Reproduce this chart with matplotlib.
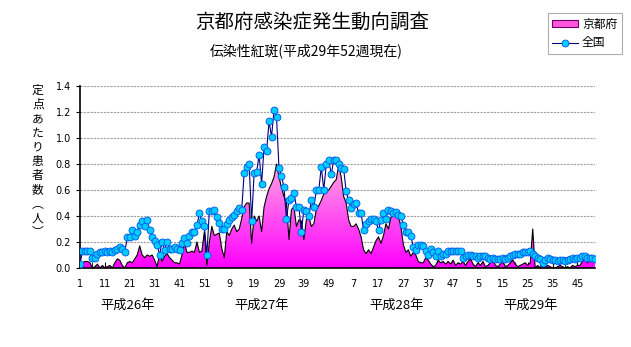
import numpy as np
import matplotlib
matplotlib.use("Agg")
import matplotlib.pyplot as plt
from matplotlib.colors import LinearSegmentedColormap
from matplotlib.patches import Patch
from matplotlib.lines import Line2D

plt.rcParams['font.family'] = ['Noto Sans CJK JP', 'DejaVu Sans']

# 京都府 (weekly, 平成26年1週 - 平成29年52週)
kyoto_h26 = [0.02, 0.04, 0.05, 0.05, 0.04, 0.00, 0.01, 0.03, 0.00, 0.02,
             0.00, 0.01, 0.02, 0.00, 0.04, 0.07, 0.06, 0.02, 0.00, 0.04,
             0.05, 0.04, 0.07, 0.10, 0.17, 0.10, 0.08, 0.10, 0.09, 0.10,
             0.06, 0.01, 0.11, 0.05, 0.09, 0.11, 0.08, 0.06, 0.04, 0.04,
             0.03, 0.10, 0.19, 0.12, 0.12, 0.13, 0.12, 0.20, 0.12, 0.13, 0.28, 0.02]
kyoto_h27 = [0.20, 0.32, 0.25, 0.26, 0.27, 0.15, 0.08, 0.28, 0.25, 0.30,
             0.33, 0.28, 0.30, 0.38, 0.47, 0.50, 0.50, 0.19, 0.40, 0.36,
             0.40, 0.28, 0.47, 0.55, 0.61, 0.65, 0.70, 0.80, 0.70, 0.62,
             0.55, 0.50, 0.22, 0.45, 0.47, 0.32, 0.37, 0.36, 0.22, 0.37,
             0.39, 0.32, 0.34, 0.45, 0.48, 0.52, 0.57, 0.59, 0.60, 0.63, 0.66, 0.68]
kyoto_h28 = [0.79, 0.70, 0.55, 0.50, 0.37, 0.32, 0.32, 0.34, 0.30, 0.24,
             0.14, 0.11, 0.14, 0.11, 0.16, 0.21, 0.24, 0.19, 0.25, 0.34,
             0.30, 0.39, 0.40, 0.41, 0.40, 0.32, 0.18, 0.12, 0.14, 0.09,
             0.12, 0.10, 0.05, 0.04, 0.04, 0.08, 0.06, 0.03, 0.01, 0.02,
             0.06, 0.04, 0.05, 0.03, 0.05, 0.03, 0.06, 0.02, 0.04, 0.03, 0.05, 0.02]
kyoto_h29 = [0.05, 0.07, 0.03, 0.01, 0.04, 0.02, 0.05, 0.01, 0.02, 0.04,
             0.06, 0.02, 0.01, 0.03, 0.05, 0.01, 0.02, 0.04, 0.06, 0.03,
             0.01, 0.02, 0.03, 0.04, 0.02, 0.04, 0.30, 0.00, 0.02, 0.00,
             0.01, 0.00, 0.02, 0.01, 0.00, 0.00, 0.01, 0.02, 0.01, 0.00,
             0.01, 0.00, 0.02, 0.01, 0.02, 0.02, 0.05, 0.07, 0.04, 0.06, 0.05, 0.06]

# 全国
zenkoku_h26 = [0.03, 0.13, 0.13, 0.13, 0.13, 0.08, 0.08, 0.11, 0.12, 0.12,
               0.13, 0.12, 0.13, 0.12, 0.14, 0.15, 0.16, 0.15, 0.12, 0.24,
               0.24, 0.29, 0.25, 0.28, 0.33, 0.36, 0.32, 0.37, 0.29, 0.24,
               0.21, 0.18, 0.10, 0.20, 0.14, 0.20, 0.15, 0.15, 0.16, 0.15,
               0.14, 0.19, 0.23, 0.19, 0.25, 0.28, 0.28, 0.33, 0.42, 0.36, 0.32, 0.10]
zenkoku_h27 = [0.44, 0.44, 0.45, 0.39, 0.35, 0.30, 0.30, 0.34, 0.37, 0.39,
               0.41, 0.44, 0.46, 0.45, 0.73, 0.78, 0.80, 0.36, 0.73, 0.74,
               0.87, 0.65, 0.93, 0.90, 1.13, 1.01, 1.22, 1.16, 0.77, 0.71,
               0.62, 0.38, 0.52, 0.54, 0.58, 0.47, 0.47, 0.28, 0.45, 0.44,
               0.40, 0.52, 0.47, 0.60, 0.60, 0.78, 0.60, 0.80, 0.83, 0.72, 0.83, 0.83]
zenkoku_h28 = [0.80, 0.77, 0.76, 0.59, 0.52, 0.46, 0.49, 0.50, 0.42, 0.42,
               0.29, 0.34, 0.36, 0.38, 0.38, 0.36, 0.29, 0.37, 0.42, 0.38,
               0.45, 0.44, 0.42, 0.43, 0.41, 0.40, 0.33, 0.28, 0.28, 0.25,
               0.16, 0.14, 0.18, 0.18, 0.17, 0.13, 0.10, 0.15, 0.12, 0.09,
               0.13, 0.09, 0.11, 0.11, 0.13, 0.13, 0.13, 0.13, 0.13, 0.13, 0.08, 0.09]
zenkoku_h29 = [0.10, 0.10, 0.09, 0.09, 0.08, 0.09, 0.09, 0.09, 0.08, 0.07,
               0.08, 0.07, 0.07, 0.07, 0.08, 0.07, 0.08, 0.09, 0.10, 0.11,
               0.11, 0.11, 0.12, 0.12, 0.12, 0.13, 0.11, 0.09, 0.08, 0.07,
               0.04, 0.06, 0.08, 0.07, 0.06, 0.06, 0.05, 0.06, 0.06, 0.05,
               0.06, 0.07, 0.08, 0.07, 0.08, 0.08, 0.09, 0.09, 0.08, 0.08, 0.08, 0.07]

week_labels = ['1', '11', '21', '31', '41', '51', '9', '19', '29', '39', '49',
               '7', '17', '27', '37', '47', '5', '15', '25', '35', '45']
year_labels = ['平成26年', '平成27年', '平成28年', '平成29年']

kyoto = np.array(kyoto_h26 + kyoto_h27 + kyoto_h28 + kyoto_h29)
zenkoku = np.array(zenkoku_h26 + zenkoku_h27 + zenkoku_h28 + zenkoku_h29)
x = np.arange(len(kyoto))

fig = plt.figure(figsize=(6.31, 3.47), dpi=100)
ax = fig.add_axes([0.1268, 0.2277, 0.816, 0.524])

# pink area with vertical gradient, clipped to the filled polygon
poly = ax.fill_between(x, kyoto, 0, facecolor='none', edgecolor='none')
cmap = LinearSegmentedColormap.from_list('pk', ['#ff00ff', '#ffb0e0'])
grad = np.linspace(0, 1, 256).reshape(-1, 1)
im = ax.imshow(grad, extent=[0, len(x) - 1, 0, 0.85], origin='lower',
               aspect='auto', cmap=cmap, zorder=1)
im.set_clip_path(poly.get_paths()[0], transform=ax.transData)
ax.plot(x, kyoto, color='black', lw=0.8, zorder=2)

ax.plot(x, zenkoku, color='#000080', lw=0.8, marker='o', ms=5,
        mfc='#00ccff', mec='#0055ee', mew=0.6, zorder=3)

ax.set_xlim(0, len(x) - 1)
ax.set_ylim(0, 1.4)
ax.set_yticks(np.arange(0, 1.41, 0.2))
ax.set_yticklabels([f'{v:.1f}' for v in np.arange(0, 1.41, 0.2)], fontsize=7,
                   family=['DejaVu Sans'])
ax.set_xticks(np.arange(0, len(x), 10))
ax.set_xticklabels(week_labels, fontsize=7, family=['DejaVu Sans'])
ax.set_xticks(np.arange(0, len(x), 5), minor=True)
ax.tick_params(axis='x', which='both', direction='in', length=4, pad=8)
ax.tick_params(axis='y', length=3)
ax.grid(axis='y', color='#a0a0a0', linestyle=(0, (2, 1)), lw=0.8)
ax.set_axisbelow(True)
for s in ['top', 'right']:
    ax.spines[s].set_visible(False)
for s in ['left', 'bottom']:
    ax.spines[s].set_linewidth(1.2)

fig.text(0.495, 0.935, '京都府感染症発生動向調査', ha='center', va='center', fontsize=14)
fig.text(0.485, 0.855, '伝染性紅斑(平成29年52週現在)', ha='center', va='center', fontsize=10)
fig.text(0.06, 0.535, '定\n点\nあ\nた\nり\n患\n者\n数\n︵\n人\n︶',
         ha='center', va='center', fontsize=8.5, linespacing=1.12)

for xp, lab in zip([0.202, 0.414, 0.628, 0.841], year_labels):
    fig.text(xp, 0.12, lab, ha='center', va='center', fontsize=9.5)

handles = [Patch(facecolor='#ff55dd', edgecolor='#660066', lw=0.8),
           Line2D([], [], color='#000080', lw=0.8, marker='o', ms=5,
                  mfc='#00ccff', mec='#0055ee', mew=0.6)]
leg = fig.legend(handles, ['京都府', '全国'], loc='upper right',
                 bbox_to_anchor=(0.995, 0.98), fontsize=8.5, frameon=True,
                 fancybox=False, edgecolor='#999999', handlelength=2.2,
                 handleheight=0.6, borderpad=0.4, labelspacing=0.5,
                 handletextpad=0.3)
leg.get_frame().set_linewidth(0.8)

fig.savefig('out.png', dpi=100)
